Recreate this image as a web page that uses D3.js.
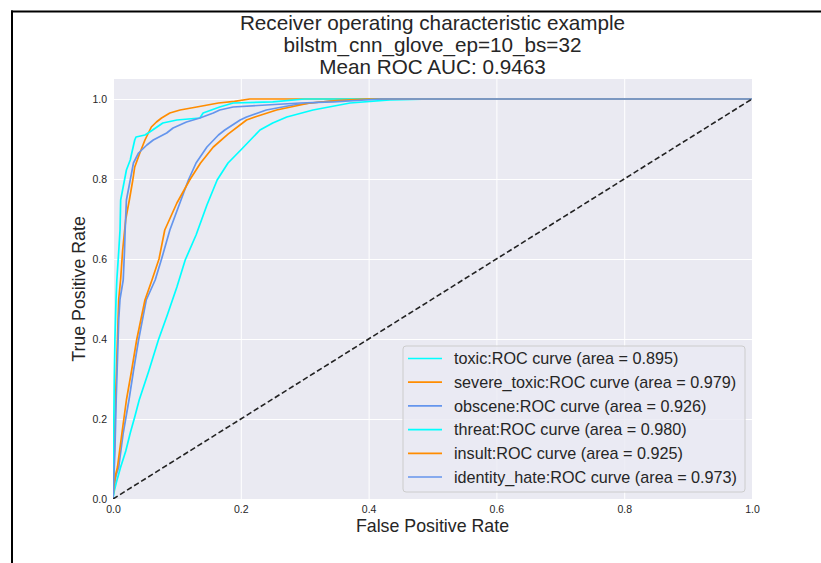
<!DOCTYPE html>
<html>
<head>
<meta charset="utf-8">
<script src="https://cdn.jsdelivr.net/npm/d3@7"></script>
<style>
  body { margin: 0; background: #fff; }
  text { font-family: "Liberation Sans", Arial, sans-serif; }
</style>
</head>
<body>
<div id="chart"></div>
<script>
// chart data: [fpr, tpr] pairs
let categories = ['toxic', 'severe_toxic', 'obscene', 'threat', 'insult', 'identity_hate'];
let aucs = ['0.895', '0.979', '0.926', '0.980', '0.925', '0.973'];
let colors = ['aqua', 'darkorange', 'cornflowerblue', 'aqua', 'darkorange', 'cornflowerblue'];
let titleLines = ['Receiver operating characteristic example', 'bilstm_cnn_glove_ep=10_bs=32', 'Mean ROC AUC: 0.9463'];
let tickValues = [0.0, 0.2, 0.4, 0.6, 0.8, 1.0];

let toxic = [[0,0],[0.002,0.02],[0.005,0.04],[0.012,0.08],[0.02,0.12],[0.027,0.165],[0.034,0.205],[0.041,0.2475],
  [0.056,0.32],[0.071,0.3975],[0.085,0.46],[0.1,0.53],[0.113,0.5975],[0.13,0.66],[0.147,0.735],[0.163,0.7975],
  [0.18,0.84],[0.2,0.8725],[0.23,0.9225],[0.25,0.94],[0.272,0.955],[0.313,0.9725],[0.371,0.99],[0.433,0.998],[0.5,1],[1,1]];
let severeToxic = [[0,0],[0.001,0.05],[0.002,0.12],[0.004,0.25],[0.006,0.35],[0.008,0.45],[0.009,0.5],[0.012,0.55],
  [0.015,0.62],[0.02,0.7],[0.0256,0.7475],[0.031,0.7975],[0.034,0.83],[0.042,0.865],[0.05,0.8975],[0.06,0.93],
  [0.068,0.9425],[0.076,0.9525],[0.089,0.965],[0.105,0.9725],[0.131,0.98],[0.165,0.99],[0.19,0.994],[0.214,1],[1,1]];
let obscene = [[0,0],[0.001,0.03],[0.005,0.06],[0.009,0.08],[0.016,0.165],[0.025,0.2475],[0.032,0.32],[0.04,0.3975],
  [0.052,0.4975],[0.066,0.5475],[0.076,0.6],[0.089,0.6725],[0.1,0.72],[0.118,0.7975],[0.13,0.84],[0.147,0.88],
  [0.165,0.91],[0.175,0.9225],[0.199,0.9475],[0.209,0.955],[0.24,0.9725],[0.282,0.985],[0.34,0.995],[0.4,1],[1,1]];
let threat = [[0,0],[0.001,0.15],[0.002,0.3],[0.003,0.4],[0.0047,0.4975],[0.006,0.5475],[0.009,0.62],[0.011,0.6725],
  [0.012,0.7475],[0.015,0.7725],[0.021,0.8225],[0.027,0.8475],[0.028,0.855],[0.034,0.8975],[0.036,0.905],[0.05,0.91],
  [0.058,0.918],[0.078,0.94],[0.1,0.9475],[0.136,0.9525],[0.141,0.965],[0.167,0.98],[0.188,0.99],[0.25,0.993],[0.3,1],[1,1]];
let insult = [[0,0],[0.001,0.03],[0.004,0.06],[0.007,0.08],[0.014,0.165],[0.021,0.2475],[0.029,0.32],[0.037,0.3975],
  [0.05,0.4975],[0.061,0.5475],[0.072,0.6],[0.081,0.6725],[0.1,0.74],[0.12,0.7975],[0.137,0.84],[0.157,0.88],
  [0.18,0.912],[0.209,0.9475],[0.222,0.955],[0.256,0.9725],[0.308,0.99],[0.35,0.996],[0.397,1],[1,1]];
let identityHate = [[0,0],[0.001,0.04],[0.003,0.12],[0.005,0.25],[0.007,0.35],[0.009,0.45],[0.011,0.5],[0.016,0.5475],
  [0.018,0.62],[0.019,0.6725],[0.021,0.7475],[0.027,0.7975],[0.032,0.84],[0.04,0.865],[0.053,0.885],[0.063,0.8975],
  [0.084,0.915],[0.094,0.9275],[0.115,0.9425],[0.136,0.9525],[0.157,0.965],[0.167,0.9725],[0.188,0.98],[0.24,0.985],
  [0.293,0.99],[0.345,0.993],[0.42,1],[1,1]];
let curves = [toxic, severeToxic, obscene, threat, insult, identityHate];

// svg dimensions
let svgWidth = 821,
    svgHeight = 563;

let margin = { top: 79, right: 69, bottom: 64, left: 113 };
let chartWidth = 752 - margin.left;
let chartHeight = 499 - margin.top;

let svg = d3.select('#chart')
    .append('svg')
    .attr('width', svgWidth)
    .attr('height', svgHeight);

// frame lines at top and left
svg.append('line').attr('x1', 11).attr('x2', svgWidth).attr('y1', 11.5).attr('y2', 11.5)
    .attr('stroke', '#000').attr('stroke-width', 2);
svg.append('line').attr('x1', 12).attr('x2', 12).attr('y1', 10.5).attr('y2', svgHeight)
    .attr('stroke', '#000').attr('stroke-width', 2);

let chartGroup = svg.append('g')
    .attr('transform', `translate(${margin.left}, ${margin.top})`);

let xScale = d3.scaleLinear().domain([0, 1]).range([0, chartWidth]);
let yScale = d3.scaleLinear().domain([0, 1.05]).range([chartHeight, 0]);

chartGroup.append('rect')
    .attr('width', chartWidth)
    .attr('height', chartHeight)
    .attr('fill', '#EAEAF2');

chartGroup.append('clipPath').attr('id', 'clip')
    .append('rect').attr('width', chartWidth).attr('height', chartHeight);

// grid
chartGroup.append('g')
    .attr('transform', `translate(0, ${chartHeight})`)
    .call(d3.axisBottom(xScale).tickValues(tickValues).tickSize(-chartHeight).tickFormat(d3.format('.1f')).tickPadding(7))
    .call(g => g.select('.domain').remove())
    .call(g => g.selectAll('line').attr('stroke', '#fff').attr('stroke-width', 1))
    .call(g => g.selectAll('text').attr('fill', '#262626').attr('font-size', 10.5).attr('font-family', 'Liberation Sans, Arial, sans-serif'));

chartGroup.append('g')
    .call(d3.axisLeft(yScale).tickValues(tickValues).tickSize(-chartWidth).tickFormat(d3.format('.1f')).tickPadding(6))
    .call(g => g.select('.domain').remove())
    .call(g => g.selectAll('line').attr('stroke', '#fff').attr('stroke-width', 1))
    .call(g => g.selectAll('text').attr('fill', '#262626').attr('font-size', 10.5).attr('font-family', 'Liberation Sans, Arial, sans-serif'));

// curves
let line = d3.line()
    .x(d => xScale(d[0]))
    .y(d => yScale(d[1]));

let plotArea = chartGroup.append('g').attr('clip-path', 'url(#clip)');

curves.forEach((c, i) => {
    plotArea.append('path')
        .datum(c)
        .attr('d', line)
        .attr('fill', 'none')
        .attr('stroke', colors[i])
        .attr('stroke-width', 1.7)
        .attr('stroke-linejoin', 'round');
});

plotArea.append('path')
    .datum([[0, 0], [1, 1]])
    .attr('d', line)
    .attr('fill', 'none')
    .attr('stroke', '#222')
    .attr('stroke-width', 1.6)
    .attr('stroke-dasharray', '5.5,2.8');

// titles
svg.selectAll('.title')
    .data(titleLines)
    .enter()
    .append('text')
    .attr('x', margin.left + chartWidth / 2)
    .attr('y', (d, i) => 30 + i * 22)
    .attr('text-anchor', 'middle')
    .attr('font-size', 20.7)
    .attr('fill', '#262626')
    .text(d => d);

// axis labels
svg.append('text')
    .attr('x', margin.left + chartWidth / 2)
    .attr('y', 532)
    .attr('text-anchor', 'middle')
    .attr('font-size', 17.8)
    .attr('fill', '#262626')
    .text('False Positive Rate');

svg.append('text')
    .attr('transform', `translate(85, ${margin.top + (499 - margin.top) / 2}) rotate(-90)`)
    .attr('text-anchor', 'middle')
    .attr('font-size', 17.8)
    .attr('fill', '#262626')
    .text('True Positive Rate');

// legend
let legend = svg.append('g').attr('transform', 'translate(403, 346)');
legend.append('rect')
    .attr('width', 342)
    .attr('height', 146)
    .attr('rx', 3)
    .attr('fill', '#EAEAF2')
    .attr('fill-opacity', 0.8)
    .attr('stroke', '#cccccc')
    .attr('stroke-width', 1);

categories.forEach((cat, i) => {
    let y = 12.5 + i * 23.7;
    legend.append('line')
        .attr('x1', 5).attr('x2', 39)
        .attr('y1', y).attr('y2', y)
        .attr('stroke', colors[i])
        .attr('stroke-width', 1.7);
    legend.append('text')
        .attr('x', 51)
        .attr('y', y + 5.8)
        .attr('font-size', 16.2)
        .attr('fill', '#262626')
        .text(`${cat}:ROC curve (area = ${aucs[i]})`);
});
</script>
</body>
</html>
